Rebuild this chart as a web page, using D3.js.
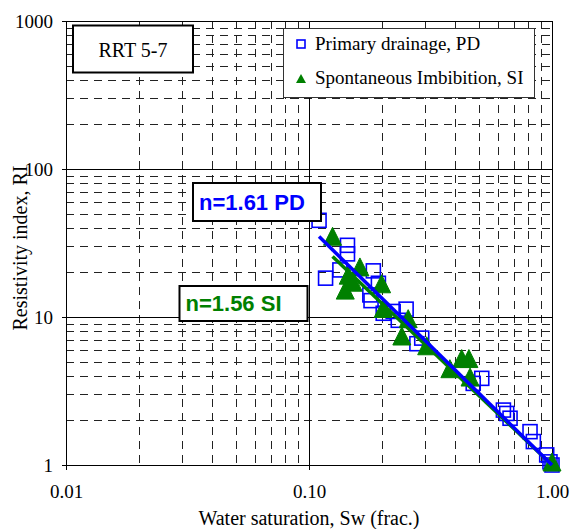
<!DOCTYPE html>
<html><head><meta charset="utf-8">
<script src="https://cdn.jsdelivr.net/npm/d3@7"></script>
<style>
html,body{margin:0;padding:0;background:#fff;}
svg{display:block;}
</style></head>
<body>
<script>
// ---- data ----
const pdSw = [0.110, 0.144, 0.144, 0.134, 0.117, 0.184, 0.193, 0.178, 0.180, 0.202, 0.222, 0.251, 0.233, 0.291, 0.278, 0.514, 0.474, 0.631, 0.672, 0.651, 0.812, 0.838, 0.951, 0.981, 1.00];
const pdRI = [45.0, 30.5, 26.7, 20.8, 18.3, 20.5, 16.9, 14.1, 12.9, 10.6, 10.9, 11.3, 9.5, 7.2, 6.6, 3.85, 3.56, 2.35, 2.07, 2.23, 1.68, 1.44, 1.17, 1.05, 1.00];
const siSw = [0.125, 0.162, 0.145, 0.141, 0.152, 0.199, 0.202, 0.256, 0.241, 0.305, 0.380, 0.425, 0.455, 0.460, 1.00];
const siRI = [33.5, 20.8, 18.3, 14.5, 16.4, 16.0, 10.9, 9.3, 7.1, 6.1, 4.27, 5.0, 5.0, 3.75, 1.0];
const fitN = {PD: 1.61, SI: 1.56};
const fitStart = {PD: 0.110, SI: 0.125};
const xTicks = [0.01, 0.1, 1];
const yTicks = [1, 10, 100, 1000];
const seriesNames = ["Primary drainage, PD", "Spontaneous Imbibition, SI"];
const annotations = ["n=1.61 PD", "n=1.56 SI"];
const chartLabel = "RRT 5-7";
const xTitle = "Water saturation, Sw (frac.)";
const yTitle = "Resistivity index, RI";

// ---- layout ----
const W = 570, H = 529;
const L = 66, R = 552, T = 21, B = 465;
const BLUE = "#0000ff", GREEN = "#008000";
const serif = "'Liberation Serif','Times New Roman',serif";
const sans = "'Liberation Sans',Arial,sans-serif";

const svg = d3.select("body").append("svg").attr("width", W).attr("height", H);
svg.append("rect").attr("width", W).attr("height", H).attr("fill", "#fff");

const x = d3.scaleLog().domain([0.01, 1]).range([L, R]);
const y = d3.scaleLog().domain([1, 1000]).range([B, T]);

// minor grid values
const minorX = [], minorY = [];
[0.01, 0.1].forEach(d => { for (let k = 2; k <= 9; k++) minorX.push(d * k); });
[1, 10, 100].forEach(d => { for (let k = 2; k <= 9; k++) minorY.push(d * k); });

const grid = svg.append("g");
grid.selectAll(".mx").data(minorX).join("line")
  .attr("x1", d => Math.round(x(d)) + 0.5).attr("x2", d => Math.round(x(d)) + 0.5)
  .attr("y1", T).attr("y2", B)
  .attr("stroke", "#222").attr("stroke-width", 1).attr("stroke-dasharray", "8,6");
grid.selectAll(".my").data(minorY).join("line")
  .attr("y1", d => Math.round(y(d)) + 0.5).attr("y2", d => Math.round(y(d)) + 0.5)
  .attr("x1", L).attr("x2", R)
  .attr("stroke", "#222").attr("stroke-width", 1).attr("stroke-dasharray", "8,6");
// major grid
grid.selectAll(".Mx").data(xTicks.slice(1)).join("line")
  .attr("x1", d => Math.round(x(d)) + 0.5).attr("x2", d => Math.round(x(d)) + 0.5)
  .attr("y1", T).attr("y2", B).attr("stroke", "#000").attr("stroke-width", 1);
grid.selectAll(".My").data(yTicks.slice(1)).join("line")
  .attr("y1", d => Math.round(y(d)) + 0.5).attr("y2", d => Math.round(y(d)) + 0.5)
  .attr("x1", L).attr("x2", R).attr("stroke", "#000").attr("stroke-width", 1);

// axes
const xAxis = svg.append("g").attr("transform", `translate(0,${B})`)
  .call(d3.axisBottom(x).tickValues(xTicks).tickFormat(d3.format(".2f")).tickSize(5).tickSizeOuter(0).tickPadding(15));
const yAxis = svg.append("g").attr("transform", `translate(${L},0)`)
  .call(d3.axisLeft(y).tickValues(yTicks).tickFormat(d3.format("d")).tickSize(4).tickSizeOuter(0).tickPadding(9));
[xAxis, yAxis].forEach(a => {
  a.select(".domain").attr("stroke", "#000");
  a.selectAll(".tick line").attr("stroke", "#000");
  a.selectAll("text").attr("font-family", serif).attr("font-size", 19).attr("fill", "#000");
});

// axis titles
svg.append("text").attr("x", (L + R) / 2).attr("y", 525).attr("text-anchor", "middle")
  .attr("font-family", serif).attr("font-size", 20).text(xTitle);
svg.append("text").attr("transform", `translate(27,${248}) rotate(-90)`).attr("text-anchor", "middle")
  .attr("font-family", serif).attr("font-size", 20).text(yTitle);

// fit lines
const fitLine = (n, s0) => {
  const pts = [s0, 1].map(s => [x(s), y(Math.pow(s, -n))]);
  return d3.line()(pts);
};
// markers
const sq = 14;
svg.append("g").selectAll("rect").data(pdSw.map((s, i) => [s, pdRI[i]])).join("rect")
  .attr("x", d => x(d[0]) - sq / 2).attr("y", d => y(d[1]) - sq / 2)
  .attr("width", sq).attr("height", sq)
  .attr("fill", "none").attr("stroke", BLUE).attr("stroke-width", 1.6);
const tri = (cx, cy, w, h) => `M${cx},${cy - h * 2 / 3}L${cx + w / 2},${cy + h / 3}L${cx - w / 2},${cy + h / 3}Z`;
svg.append("g").selectAll("path").data(siSw.map((s, i) => [s, siRI[i]])).join("path")
  .attr("d", d => tri(x(d[0]), y(d[1]), 18, 18))
  .attr("fill", GREEN).attr("stroke", GREEN).attr("stroke-width", 1);

svg.append("path").attr("d", fitLine(fitN.SI, fitStart.SI)).attr("stroke", GREEN).attr("stroke-width", 3.5).attr("fill", "none");
svg.append("path").attr("d", fitLine(fitN.PD, fitStart.PD)).attr("stroke", BLUE).attr("stroke-width", 3.5).attr("fill", "none");

// RRT label box
svg.append("rect").attr("x", 73).attr("y", 25.5).attr("width", 120).attr("height", 47)
  .attr("fill", "#fff").attr("stroke", "#000").attr("stroke-width", 2);
svg.append("text").attr("x", 133).attr("y", 57).attr("text-anchor", "middle")
  .attr("font-family", serif).attr("font-size", 20).text(chartLabel);

// legend
const lg = svg.append("g");
lg.append("rect").attr("x", 283.5).attr("y", 28.5).attr("width", 251).attr("height", 69)
  .attr("fill", "#fff").attr("stroke", "#333").attr("stroke-width", 1);
lg.append("rect").attr("x", 297).attr("y", 40).attr("width", 8).attr("height", 8)
  .attr("fill", "none").attr("stroke", BLUE).attr("stroke-width", 1.6);
lg.append("path").attr("d", tri(301, 80, 10, 9)).attr("fill", GREEN);
lg.selectAll("text").data(seriesNames).join("text")
  .attr("x", 315).attr("y", (d, i) => 50 + i * 34)
  .attr("font-family", serif).attr("font-size", 19).text(d => d);

// annotations
const ann = [
  {t: annotations[0], x: 193, y: 183, w: 128, h: 38, c: BLUE},
  {t: annotations[1], x: 179.5, y: 286, w: 128, h: 35, c: GREEN}
];
ann.forEach(a => {
  svg.append("rect").attr("x", a.x).attr("y", a.y).attr("width", a.w).attr("height", a.h)
    .attr("fill", "#fff").attr("stroke", "#000").attr("stroke-width", 2);
  svg.append("text").attr("x", a.x + 6).attr("y", a.y + a.h / 2 + 7.5).attr("text-anchor", "start")
    .attr("font-family", sans).attr("font-weight", "bold").attr("font-size", 22).attr("fill", a.c).text(a.t);
});
</script>
</body></html>
